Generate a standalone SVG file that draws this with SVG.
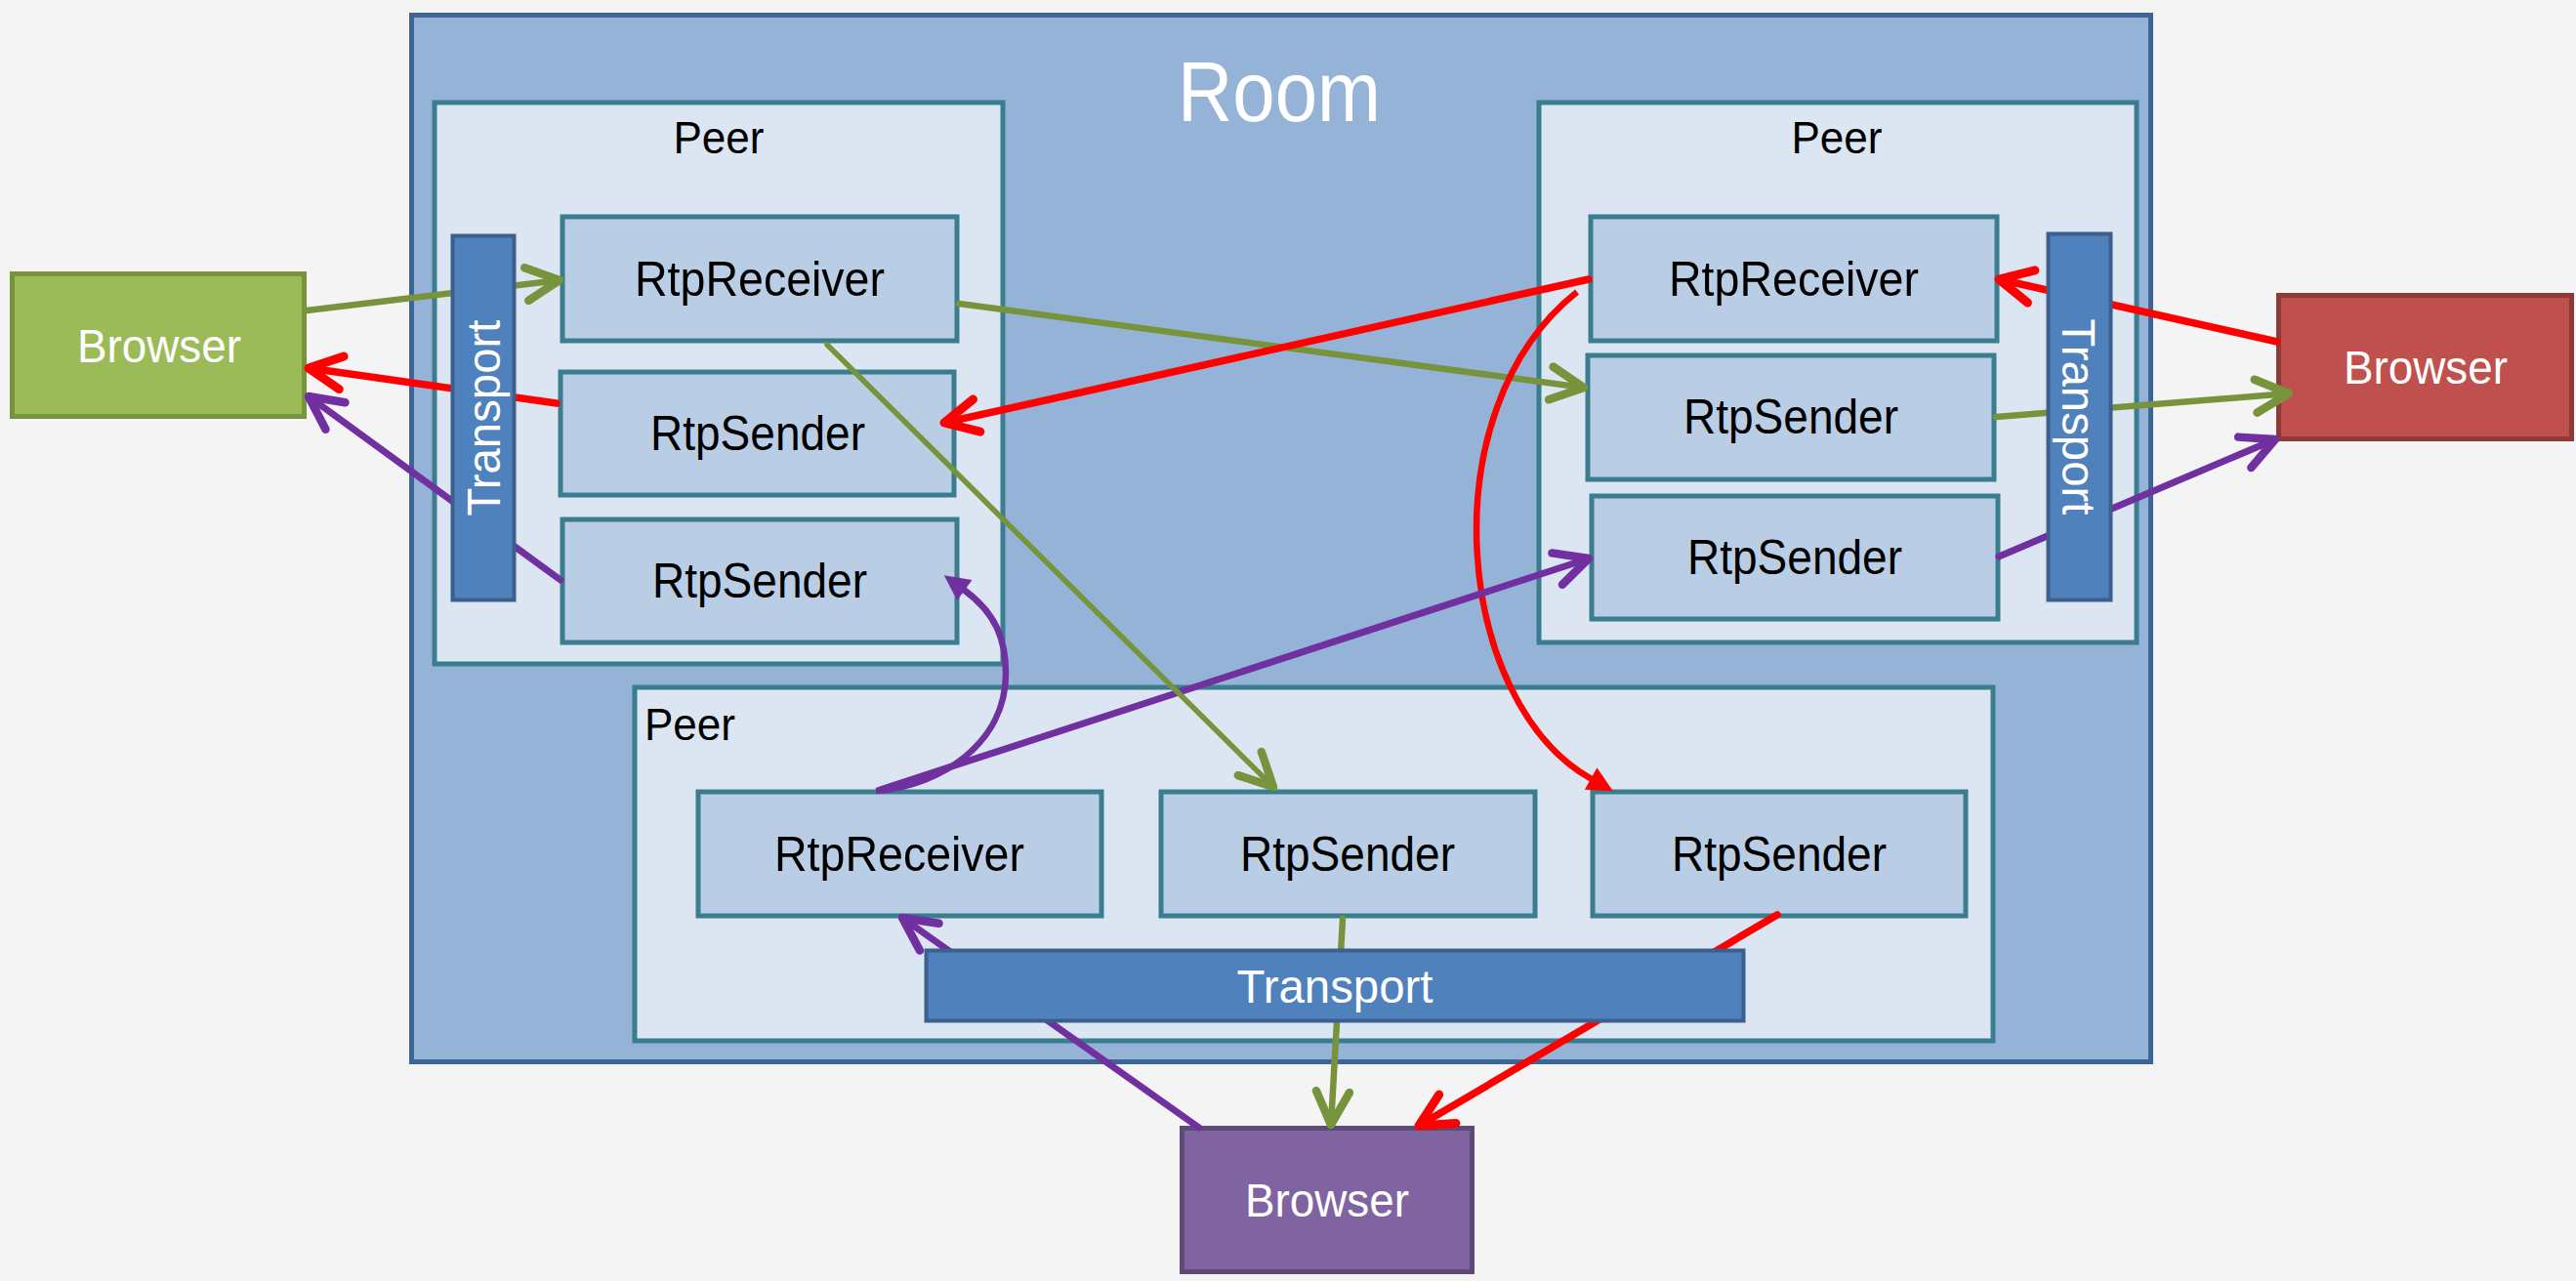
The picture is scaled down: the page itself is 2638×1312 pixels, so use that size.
<svg xmlns="http://www.w3.org/2000/svg" width="2638" height="1312" viewBox="0 0 2638 1312">
<style>
text{font-family:"Liberation Sans",Arial,sans-serif}
.room{fill:#95b3d7;stroke:#3e6597;stroke-width:5}
.peer{fill:#dce6f2;stroke:#3a7d8e;stroke-width:5}
.rtp{fill:#b9cde5;stroke:#3a7d8e;stroke-width:5}
.tr{fill:#4f81bd;stroke:#3c5f8c;stroke-width:4}
.lbl{font-size:50px;fill:#000;text-anchor:middle}
.wl{font-size:48px;fill:#fff;text-anchor:middle}
.c{fill:none;stroke-linecap:round}
.g{stroke:#77933c;stroke-width:6.5}
.r{stroke:#ff0000;stroke-width:7.5}
.p{stroke:#7030a0;stroke-width:7}
</style>
<defs>
<marker id="ag" markerUnits="userSpaceOnUse" orient="auto" markerWidth="10" markerHeight="10" refX="0" refY="0" style="overflow:visible"><path d="M-34,-17 L0,0 L-34,17" fill="none" stroke="#77933c" stroke-width="8.5" stroke-linecap="round" stroke-linejoin="round"/></marker>
<marker id="ar" markerUnits="userSpaceOnUse" orient="auto" markerWidth="10" markerHeight="10" refX="0" refY="0" style="overflow:visible"><path d="M-34,-17 L0,0 L-34,17" fill="none" stroke="#ff0000" stroke-width="9" stroke-linecap="round" stroke-linejoin="round"/></marker>
<marker id="ap" markerUnits="userSpaceOnUse" orient="auto" markerWidth="10" markerHeight="10" refX="0" refY="0" style="overflow:visible"><path d="M-34,-17 L0,0 L-34,17" fill="none" stroke="#7030a0" stroke-width="8.5" stroke-linecap="round" stroke-linejoin="round"/></marker>
<marker id="tr" markerUnits="userSpaceOnUse" orient="auto" markerWidth="10" markerHeight="10" refX="0" refY="0" style="overflow:visible"><path d="M25,0 L-1,-13 L-1,13 Z" fill="#ff0000"/></marker>
<marker id="tp" markerUnits="userSpaceOnUse" orient="auto" markerWidth="10" markerHeight="10" refX="0" refY="0" style="overflow:visible"><path d="M25,0 L-1,-13 L-1,13 Z" fill="#7030a0"/></marker>
</defs>
<rect width="2638" height="1312" fill="#f4f4f4"/>
<g id="room">
<rect class="room" x="421.5" y="15.5" width="1781" height="1072"/>
<text x="1310" y="124" textLength="208" lengthAdjust="spacingAndGlyphs" style="font-size:88px;fill:#fff;text-anchor:middle">Room</text>
</g>
<g id="peer-left">
<rect class="peer" x="445" y="105" width="582" height="575"/>
<text class="lbl" x="736" y="157" textLength="93" lengthAdjust="spacingAndGlyphs" style="font-size:46px">Peer</text>
</g>
<g id="peer-right">
<rect class="peer" x="1576" y="105" width="612" height="553"/>
<text class="lbl" x="1881" y="157" textLength="93" lengthAdjust="spacingAndGlyphs" style="font-size:46px">Peer</text>
</g>
<g id="peer-bottom">
<rect class="peer" x="650" y="704" width="1391" height="362"/>
<text x="660" y="758" textLength="93" lengthAdjust="spacingAndGlyphs" style="font-size:46px;fill:#000">Peer</text>
</g>
<g id="left-rtpreceiver"><rect class="rtp" x="576" y="222" width="404" height="127"/><text class="lbl" x="778" y="303" textLength="256" lengthAdjust="spacingAndGlyphs">RtpReceiver</text></g>
<g id="left-rtpsender-1"><rect class="rtp" x="574" y="381" width="403" height="126"/><text class="lbl" x="776" y="461" textLength="220" lengthAdjust="spacingAndGlyphs">RtpSender</text></g>
<g id="left-rtpsender-2"><rect class="rtp" x="576" y="532" width="404" height="126"/><text class="lbl" x="778" y="612" textLength="220" lengthAdjust="spacingAndGlyphs">RtpSender</text></g>
<g id="right-rtpreceiver"><rect class="rtp" x="1629" y="222" width="416" height="127"/><text class="lbl" x="1837" y="303" textLength="256" lengthAdjust="spacingAndGlyphs">RtpReceiver</text></g>
<g id="right-rtpsender-1"><rect class="rtp" x="1626" y="364" width="416" height="127"/><text class="lbl" x="1834" y="444" textLength="220" lengthAdjust="spacingAndGlyphs">RtpSender</text></g>
<g id="right-rtpsender-2"><rect class="rtp" x="1630" y="508" width="416" height="126"/><text class="lbl" x="1838" y="588" textLength="220" lengthAdjust="spacingAndGlyphs">RtpSender</text></g>
<g id="bottom-rtpreceiver"><rect class="rtp" x="715" y="811" width="413" height="127"/><text class="lbl" x="921" y="892" textLength="256" lengthAdjust="spacingAndGlyphs">RtpReceiver</text></g>
<g id="bottom-rtpsender-1"><rect class="rtp" x="1189" y="811" width="383" height="127"/><text class="lbl" x="1380" y="892" textLength="220" lengthAdjust="spacingAndGlyphs">RtpSender</text></g>
<g id="bottom-rtpsender-2"><rect class="rtp" x="1631" y="811" width="382" height="127"/><text class="lbl" x="1822" y="892" textLength="220" lengthAdjust="spacingAndGlyphs">RtpSender</text></g>
<g id="browser-green"><rect x="12.5" y="280.5" width="299" height="146" fill="#9bbb59" stroke="#77933c" stroke-width="5"/><text class="wl" x="163" y="371" textLength="168" lengthAdjust="spacingAndGlyphs">Browser</text></g>
<g id="browser-red"><rect x="2333.5" y="302.5" width="300" height="147" fill="#c0504d" stroke="#8c3a38" stroke-width="5"/><text class="wl" x="2484" y="393" textLength="168" lengthAdjust="spacingAndGlyphs">Browser</text></g>
<g id="browser-purple"><rect x="1210.5" y="1155.5" width="297" height="147" fill="#8064a2" stroke="#5c4a77" stroke-width="5"/><text class="wl" x="1359" y="1246" textLength="168" lengthAdjust="spacingAndGlyphs">Browser</text></g>
<g id="connectors">
<path class="c g" d="M314,318 L573,287" marker-end="url(#ag)"/>
<path class="c r" d="M570,413 L316,377" marker-end="url(#ar)"/>
<path class="c p" d="M574,594 L316,406" marker-end="url(#ap)"/>
<path class="c g" d="M982,311 L1622,397" marker-end="url(#ag)"/>
<path class="c r" d="M1627,286 L967,433" marker-end="url(#ar)"/>
<path class="c r" style="stroke-width:6.5;stroke-linecap:butt" d="M1615,299 C1462,420 1490,720 1630,798" marker-end="url(#tr)"/>
<path class="c p" d="M901,809 L1627,572" marker-end="url(#ap)"/>
<path class="c p" style="stroke-width:6.5;stroke-linecap:butt" d="M897,810 C965,805 1030,760 1030,690 C1030,655 1020,628 987,604" marker-end="url(#tp)"/>
<path class="c g" style="stroke-width:5.5" d="M847,353 L1304,806" marker-end="url(#ag)"/>
<path class="c r" d="M2332,350 L2047,286" marker-end="url(#ar)"/>
<path class="c g" d="M2044,427 L2344,403" marker-end="url(#ag)"/>
<path class="c p" d="M2047,570 L2330,450" marker-end="url(#ap)"/>
<path class="c p" d="M1228,1155 L924,940" marker-end="url(#ap)"/>
<path class="c g" d="M1375,941 L1363,1152" marker-end="url(#ag)"/>
<path class="c r" d="M1820,937 L1453,1153" marker-end="url(#ar)"/>
</g>
<g id="transport-left"><rect class="tr" x="463.5" y="241.5" width="63" height="373"/><text class="wl" transform="translate(495,428) rotate(-90)" y="17" textLength="201" lengthAdjust="spacingAndGlyphs">Transport</text></g>
<g id="transport-right"><rect class="tr" x="2097.5" y="239.5" width="64" height="375"/><text class="wl" transform="translate(2129,427) rotate(90)" y="17" textLength="201" lengthAdjust="spacingAndGlyphs">Transport</text></g>
<g id="transport-bottom"><rect class="tr" x="948.5" y="973.5" width="837" height="72"/><text class="wl" x="1367" y="1027" textLength="201" lengthAdjust="spacingAndGlyphs">Transport</text></g>
</svg>
